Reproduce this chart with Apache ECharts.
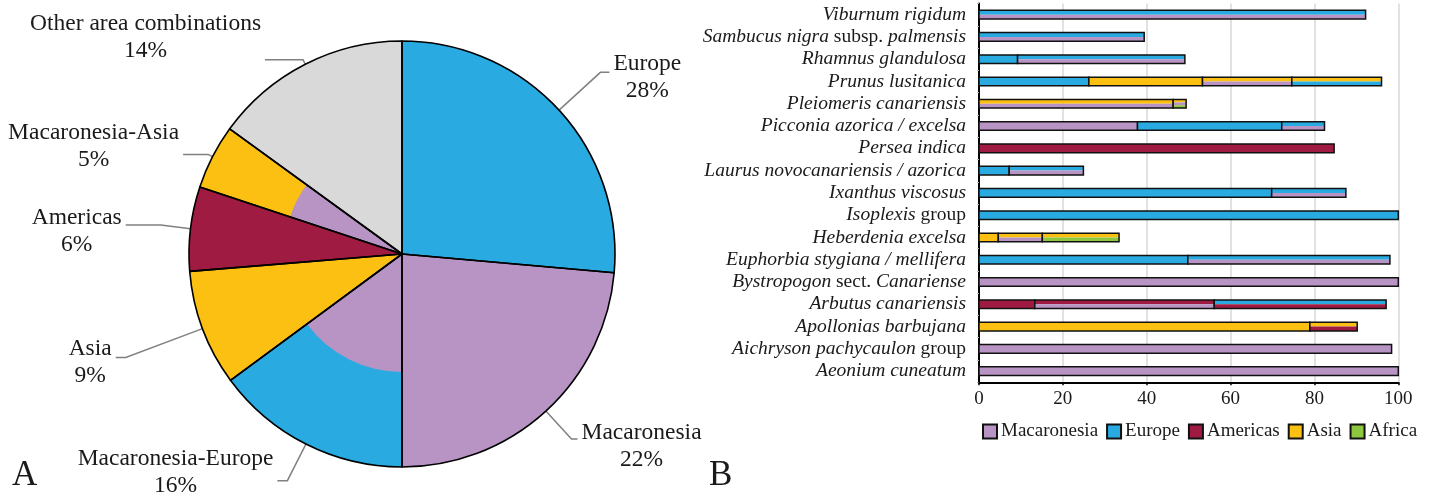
<!DOCTYPE html>
<html><head><meta charset="utf-8">
<script src="https://cdn.jsdelivr.net/npm/echarts@6/dist/echarts.min.js"></script>
<style>html,body{margin:0;padding:0;background:#fff}#c{width:1429px;height:496px}</style>
</head><body><div id="c"></div>
<script>
// ---------- Panel A: pie ----------
const pieNames = ['Europe', 'Macaronesia', 'Macaronesia-Europe', 'Asia', 'Americas', 'Macaronesia-Asia', 'Other area combinations'];
const pieValues = [26.4, 23.6, 14.9, 8.8, 6.4, 4.9, 15.0];
const pieLabels = ['28%', '22%', '16%', '9%', '6%', '5%', '14%'];

// ---------- Panel B: bars ----------
const species = [
  'Viburnum rigidum', 'Sambucus nigra subsp. palmensis', 'Rhamnus glandulosa', 'Prunus lusitanica',
  'Pleiomeris canariensis', 'Picconia azorica / excelsa', 'Persea indica', 'Laurus novocanariensis / azorica',
  'Ixanthus viscosus', 'Isoplexis group', 'Heberdenia excelsa', 'Euphorbia stygiana / mellifera',
  'Bystropogon sect. Canariense', 'Arbutus canariensis', 'Apollonias barbujana', 'Aichryson pachycaulon group',
  'Aeonium cuneatum'
];
// cumulative segment ends (%) per species
const segEnds = [
  [92.2], [39.4], [9.2, 49.1], [26.2, 53.3, 74.6, 96.0], [46.3, 49.4], [37.8, 72.2, 82.4],
  [84.7], [7.2, 24.9], [69.8, 87.5], [100], [4.6, 15.1, 33.4], [49.8, 98.0], [100],
  [13.3, 56.1, 97.1], [78.9, 90.2], [98.4], [100]
];
// area codes per segment (stripes top to bottom): M Macaronesia, E Europe, A Americas, S Asia, F Africa
const segAreas = [
  ['EM'], ['EM'], ['E', 'EM'], ['E', 'S', 'SM', 'SE'], ['SM', 'SMF'], ['M', 'E', 'EM'],
  ['A'], ['E', 'EM'], ['E', 'EM'], ['E'], ['S', 'SM', 'SF'], ['E', 'EM'], ['M'],
  ['A', 'AM', 'EA'], ['S', 'SA'], ['M'], ['M']
];
const areaNames = ['Macaronesia', 'Europe', 'Americas', 'Asia', 'Africa'];
const areaCodes = ['M', 'E', 'A', 'S', 'F'];
const xTicks = [0, 20, 40, 60, 80, 100];

// ---------- styles ----------
const FONT = '"Liberation Serif", "Times New Roman", serif';
const TXT = '#1a1a1a';
const areaColors = { M: '#B794C4', E: '#29ABE2', A: '#A01B42', S: '#FCC012', F: '#8DC63F' };
const pieColors = ['#29ABE2', '#B794C4', '#29ABE2', '#FCC012', '#A01B42', '#FCC012', '#D9D9D9'];
const innerColors = ['transparent', 'transparent', '#B794C4', 'transparent', 'transparent', '#B794C4', 'transparent'];
const lineLen = [56, 38, 41, 82, 30, 5, 5];
const lineLen2 = [9, 6, 10, 10, 35, 25, 38];
const labelPad = [[10, 0, 0, 0], [14, 0, 0, 0], [0, 0, 16, 0], [10, 0, 0, 0], [12, 0, 0, 0], [0, 0, 16, 0], [0, 0, 44, 0]];
const pieCenter = [402, 254];
const pieR = 213, innerR = 118;
const barH = 8.6;
const romanWords = ['subsp.', 'sect.', 'group'];

const chart = echarts.init(document.getElementById('c'), null, { renderer: 'canvas' });

const segData = [], segCombo = [];
species.forEach((s, i) => {
  let prev = 0;
  segEnds[i].forEach((e, j) => {
    segData.push([prev, e, i]);
    segCombo.push(segAreas[i][j]);
    prev = e;
  });
});

const pieBase = pieNames.map((n, i) => ({ name: n, value: pieValues[i], itemStyle: { color: pieColors[i] } }));
const pieInner = pieNames.map((n, i) => ({ name: n, value: pieValues[i], itemStyle: { color: innerColors[i] } }));
const pieTop = pieNames.map((n, i) => ({
  name: n, value: pieValues[i],
  label: { padding: labelPad[i] },
  labelLine: { length: lineLen[i], length2: lineLen2[i] }
}));

const option = {
  animation: false,
  textStyle: { fontFamily: FONT },
  legend: {
    left: 977, top: 417, itemWidth: 14, itemHeight: 14, itemGap: 8,
    icon: 'rect',
    data: areaNames,
    textStyle: { fontFamily: FONT, fontSize: 19, color: TXT, padding: [0, 0, 0, -1] },
    selectedMode: false
  },
  grid: { left: 979, right: 30.7, top: 3.5, bottom: 113.7, containLabel: false },
  xAxis: {
    type: 'value', min: 0, max: 100, interval: 20,
    axisLine: { show: true, lineStyle: { color: '#000', width: 2 } },
    axisTick: { show: true, length: 3, lineStyle: { color: '#000', width: 1.5 } },
    axisLabel: { fontFamily: FONT, fontSize: 19, color: TXT, margin: 7,
      formatter: v => xTicks.includes(v) ? String(v) : '' },
    splitLine: { show: true, lineStyle: { color: '#d9d9d9', width: 1.5 } }
  },
  yAxis: {
    type: 'category', data: species, inverse: true,
    axisLine: { show: true, lineStyle: { color: '#000', width: 2 } },
    axisTick: { show: true, length: 2, lineStyle: { color: '#bbb' } },
    splitLine: { show: false },
    axisLabel: {
      margin: 13, color: TXT,
      formatter: function (v) {
        return v.split(' ').map((w, k, arr) => {
          const t = w + (k < arr.length - 1 ? ' ' : '');
          return romanWords.includes(w) ? '{r|' + t + '}' : '{i|' + t + '}';
        }).join('');
      },
      rich: {
        i: { fontFamily: FONT, fontSize: 19.5, fontStyle: 'italic', color: TXT },
        r: { fontFamily: FONT, fontSize: 19.5, fontStyle: 'normal', color: TXT }
      }
    }
  },
  graphic: [
    { type: 'text', left: 12, top: 458, style: { text: 'A', font: '35px ' + FONT, fill: TXT } },
    { type: 'text', left: 709, top: 458, style: { text: 'B', font: '35px ' + FONT, fill: TXT } }
  ],
  series: [
    {
      type: 'pie', center: pieCenter, radius: [0, pieR], silent: true,
      label: { show: false }, labelLine: { show: false },
      itemStyle: { borderWidth: 0 }, data: pieBase
    },
    {
      type: 'pie', center: pieCenter, radius: [0, innerR], silent: true,
      label: { show: false }, labelLine: { show: false },
      itemStyle: { borderWidth: 0 }, data: pieInner
    },
    {
      type: 'pie', center: pieCenter, radius: [0, pieR], silent: true,
      avoidLabelOverlap: false,
      itemStyle: { color: 'rgba(0,0,0,0)', borderColor: '#000', borderWidth: 1.6 },
      label: {
        show: true, position: 'outside', distanceToLabelLine: 4,
        formatter: p => '{a|' + p.name + '}\n{a|' + pieLabels[p.dataIndex] + '}',
        rich: { a: { fontFamily: FONT, fontSize: 23.5, lineHeight: 27, align: 'center', color: TXT } }
      },
      labelLine: { show: true, lineStyle: { color: '#808080', width: 1.5 } },
      data: pieTop
    },
    {
      type: 'custom', name: 'segments',
      encode: { x: [0, 1], y: 2 },
      data: segData,
      renderItem: function (params, api) {
        const a = api.coord([api.value(0), api.value(2)]);
        const b = api.coord([api.value(1), api.value(2)]);
        const combo = segCombo[params.dataIndex];
        const n = combo.length, y0 = a[1] - barH / 2, w = b[0] - a[0];
        const children = [];
        for (let k = 0; k < n; k++) {
          children.push({ type: 'rect', shape: { x: a[0], y: y0 + k * barH / n, width: w, height: barH / n },
            style: { fill: areaColors[combo[k]] } });
        }
        children.push({ type: 'rect', shape: { x: a[0], y: y0, width: w, height: barH },
          style: { fill: 'none', stroke: '#111', lineWidth: 1.5 } });
        return { type: 'group', children };
      }
    }
  ].concat(areaNames.map((n, i) => ({
    type: 'bar', name: n, data: [],
    itemStyle: { color: areaColors[areaCodes[i]], borderColor: '#111', borderWidth: 1.5 }
  })))
};
chart.setOption(option);
</script>
</body></html>
